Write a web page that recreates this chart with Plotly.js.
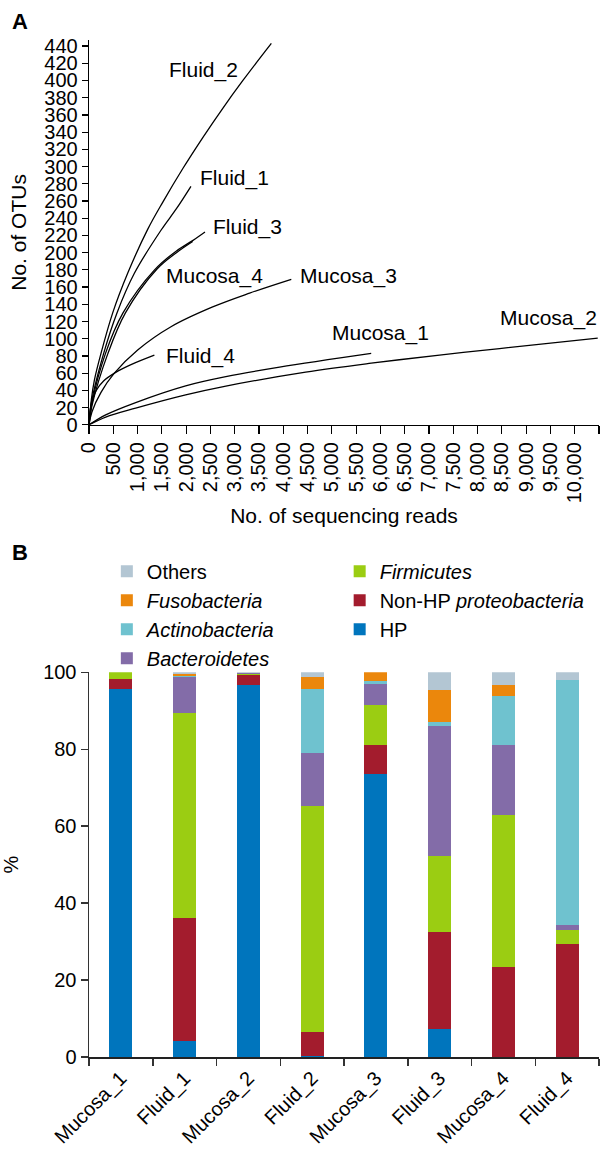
<!DOCTYPE html>
<html>
<head>
<meta charset="utf-8">
<script src="https://cdn.plot.ly/plotly-3.0.1.min.js"></script>
<style>
html,body{margin:0;padding:0;background:#fff;}
#chart{width:600px;height:1151px;}
</style>
</head>
<body>
<div id="chart"></div>
<script>
// ---------- Panel A: rarefaction curves ----------
const fluid2Reads = [0, 50, 111, 247, 488, 796, 1208, 1523, 1935, 2346, 2758, 3169, 3754];
const fluid2Otus  = [0, 30, 52, 83, 130, 176, 227, 259, 298, 334, 368, 400, 443];
const fluid1Reads = [0, 50, 302, 576, 934, 1482, 1800, 2099];
const fluid1Otus  = [0, 26, 83, 130, 176, 226, 251, 277];
const fluid3Reads = [0, 60, 340, 700, 1350, 1800, 2134, 2388];
const fluid3Otus  = [0, 25, 83, 130, 180, 202, 214, 224];
const mucosa4Reads = [0, 60, 390, 750, 1400, 1800, 2134];
const mucosa4Otus  = [0, 22, 83, 130, 181, 200, 213];
const mucosa3Reads = [0, 60, 250, 522, 1002, 1688, 2546, 3307, 4165];
const mucosa3Otus  = [0, 15, 38, 60, 87, 114, 137, 153, 169];
const fluid4Reads = [0, 40, 150, 300, 550, 865, 1346];
const fluid4Otus  = [0, 22, 40, 51, 61, 70, 81];
const mucosa1Reads = [0, 344, 961, 1990, 2818, 3923, 5810];
const mucosa1Otus  = [0, 11.6, 25.9, 45.3, 56, 67, 83];
const mucosa2Reads = [0, 344, 961, 1990, 2818, 4460, 5810, 7217, 8452, 10474];
const mucosa2Otus  = [0, 9, 19.4, 34.8, 45, 61.2, 71.6, 81, 88.6, 100.6];

const readTickVals = [0,500,1000,1500,2000,2500,3000,3500,4000,4500,5000,5500,6000,6500,7000,7500,8000,8500,9000,9500,10000,10500];
const readTickText = ['0','500','1,000','1,500','2,000','2,500','3,000','3,500','4,000','4,500','5,000','5,500','6,000','6,500','7,000','7,500','8,000','8,500','9,000','9,500','10,000',''];

const curveNames = ['Fluid_2','Fluid_1','Fluid_3','Mucosa_4','Mucosa_3','Fluid_4','Mucosa_1','Mucosa_2'];
const curveReads = [fluid2Reads, fluid1Reads, fluid3Reads, mucosa4Reads, mucosa3Reads, fluid4Reads, mucosa1Reads, mucosa2Reads];
const curveOtus  = [fluid2Otus, fluid1Otus, fluid3Otus, mucosa4Otus, mucosa3Otus, fluid4Otus, mucosa1Otus, mucosa2Otus];
// label anchor (left edge, middle) in data units
const labelReads = [1600, 2240, 2510, 1540, 4300, 1540, 4960, 8420];
const labelOtus  = [412, 287, 230, 173, 173, 80, 107, 124];

// ---------- Panel B: phylum composition ----------
const samples = ['Mucosa_1','Fluid_1','Mucosa_2','Fluid_2','Mucosa_3','Fluid_3','Mucosa_4','Fluid_4'];
const hp      = [95.7, 4.1, 96.8, 0.2, 73.6, 7.3, 0, 0];
const nonHp   = [2.7, 32.1, 2.4, 6.2, 7.4, 25.1, 23.4, 29.5];
const firmicutes = [1.6, 53.2, 0.4, 58.8, 10.6, 19.8, 39.4, 3.6];
const bacteroidetes = [0, 9.4, 0.2, 13.8, 5.4, 33.9, 18.4, 1.1];
const actinobacteria = [0, 0.3, 0.1, 16.7, 0.8, 0.9, 12.7, 63.9];
const fusobacteria = [0, 0.6, 0, 3.1, 2.2, 8.5, 2.9, 0];
const others = [0, 0.3, 0.1, 1.2, 0, 4.5, 3.2, 1.9];

const FONT = 'Arial, "Liberation Sans", Helvetica, sans-serif';

const traces = [];
for (let i = 0; i < curveNames.length; i++) {
  traces.push({
    type: 'scatter', mode: 'lines', name: curveNames[i],
    x: curveReads[i], y: curveOtus[i],
    line: {color: '#000', width: 1.3, shape: 'spline', smoothing: 1},
    xaxis: 'x', yaxis: 'y', showlegend: false, hoverinfo: 'skip'
  });
}

const phyla = [
  {name: 'HP', vals: hp, color: '#0075BD', legend: 'legend2', rank: 3},
  {name: 'Non-HP <i>proteobacteria</i>', vals: nonHp, color: '#A31C2D', legend: 'legend2', rank: 2},
  {name: '<i>Firmicutes</i>', vals: firmicutes, color: '#9BCD12', legend: 'legend2', rank: 1},
  {name: '<i>Bacteroidetes</i>', vals: bacteroidetes, color: '#836CA8', legend: 'legend', rank: 4},
  {name: '<i>Actinobacteria</i>', vals: actinobacteria, color: '#6FC2CF', legend: 'legend', rank: 3},
  {name: '<i>Fusobacteria</i>', vals: fusobacteria, color: '#EB870C', legend: 'legend', rank: 2},
  {name: 'Others', vals: others, color: '#B3C6D3', legend: 'legend', rank: 1}
];
phyla.forEach(p => {
  traces.push({
    type: 'bar', name: p.name, x: samples, y: p.vals,
    marker: {color: p.color, line: {width: 0}},
    width: 0.36, xaxis: 'x2', yaxis: 'y2', legend: p.legend, legendrank: p.rank
  });
});

const annotations = curveNames.map((n, i) => ({
  text: n, x: labelReads[i], y: labelOtus[i], xref: 'x', yref: 'y',
  xanchor: 'left', yanchor: 'middle', showarrow: false,
  font: {family: FONT, size: 21, color: '#000'}
}));
annotations.push({text: '<b>A</b>', xref: 'paper', yref: 'paper', x: -0.155, y: 1.0177,
  xanchor: 'left', yanchor: 'middle', showarrow: false, font: {family: FONT, size: 22, color: '#000'}});
annotations.push({text: '<b>B</b>', xref: 'paper', yref: 'paper', x: -0.155, y: 0.4958,
  xanchor: 'left', yanchor: 'middle', showarrow: false, font: {family: FONT, size: 22, color: '#000'}});

const legendFont = {family: FONT, size: 20, color: '#000'};
const layout = {
  width: 600, height: 1151,
  margin: {l: 89, r: 1, t: 40, b: 93.5},
  paper_bgcolor: '#fff', plot_bgcolor: '#fff',
  font: {family: FONT, color: '#000'},
  barmode: 'stack',
  showlegend: true,
  legend: {orientation: 'v', x: 0.035, y: 0.4968, xanchor: 'left', yanchor: 'top',
    traceorder: 'normal', font: legendFont, bgcolor: 'rgba(0,0,0,0)'},
  legend2: {orientation: 'v', x: 0.4915, y: 0.4968, xanchor: 'left', yanchor: 'top',
    traceorder: 'normal', font: legendFont, bgcolor: 'rgba(0,0,0,0)'},
  xaxis: {domain: [0, 1], anchor: 'y', range: [0, 10500], tickmode: 'array',
    tickvals: readTickVals, ticktext: readTickText, tickangle: -90,
    ticks: 'outside', ticklen: 8, tickwidth: 1.2, tickcolor: '#000',
    showline: true, linecolor: '#000', linewidth: 1.3, showgrid: false, zeroline: false,
    tickfont: {family: FONT, size: 20, color: '#000'},
    title: {text: 'No. of sequencing reads', font: {family: FONT, size: 21, color: '#000'}, standoff: 6}},
  yaxis: {domain: [0.6216, 1], anchor: 'x', range: [0, 447], dtick: 20, tick0: 0,
    ticks: 'outside', ticklen: 6, tickwidth: 1.2, tickcolor: '#000',
    showline: true, linecolor: '#000', linewidth: 1.3, showgrid: false, zeroline: false,
    tickfont: {family: FONT, size: 20, color: '#000'},
    title: {text: 'No. of OTUs', font: {family: FONT, size: 21, color: '#000'}, standoff: 12}},
  xaxis2: {domain: [0, 1], anchor: 'y2', type: 'category', range: [-0.5, 7.5],
    tickson: 'boundaries', ticks: 'outside', ticklen: 7, tickwidth: 1.5, tickcolor: '#333',
    showline: true, linecolor: '#222', linewidth: 1.5, showgrid: false, zeroline: false,
    tickangle: -45, tickfont: {family: FONT, size: 20, color: '#000'}},
  yaxis2: {domain: [0, 0.3782], anchor: 'x2', range: [0, 100], dtick: 20,
    ticks: 'outside', ticklen: 7, tickwidth: 1.5, tickcolor: '#333',
    showline: true, linecolor: '#333', linewidth: 1.5, showgrid: false, zeroline: false,
    tickfont: {family: FONT, size: 20, color: '#000'},
    title: {text: '%', font: {family: FONT, size: 20, color: '#000'}, standoff: 22}},
  annotations: annotations
};

Plotly.newPlot('chart', traces, layout, {staticPlot: true, displayModeBar: false});
</script>
</body>
</html>
